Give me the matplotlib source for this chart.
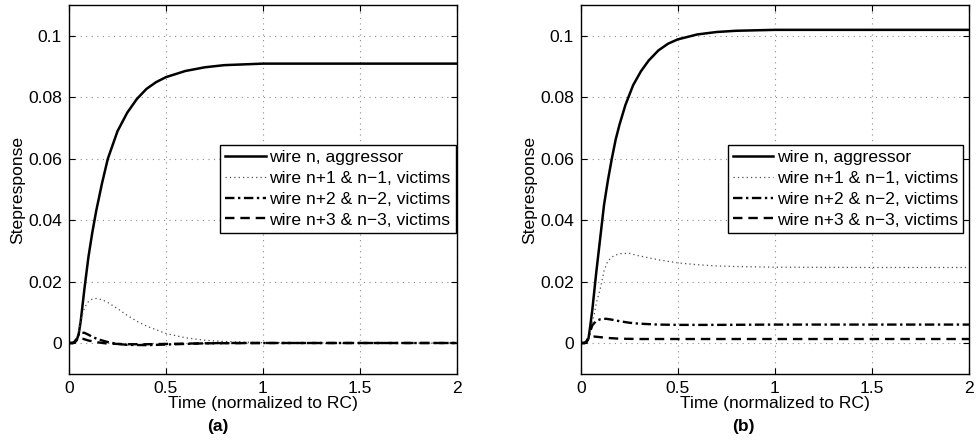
import matplotlib
matplotlib.use('Agg')
import matplotlib.pyplot as plt

plt.rcParams['font.family'] = ['Liberation Sans', 'DejaVu Sans']
plt.rcParams['font.size'] = 12.6

# panel (a)
t_agg_a = [0, 0.02, 0.03, 0.04, 0.05, 0.06, 0.08, 0.10, 0.12, 0.14, 0.17, 0.20, 0.25, 0.30,
           0.35, 0.40, 0.45, 0.50, 0.60, 0.70, 0.80, 1.0, 1.2, 1.5, 2.0]
v_agg_a = [0, 0, 0.0002, 0.001, 0.003, 0.007, 0.018, 0.028, 0.036, 0.043, 0.052, 0.060, 0.069, 0.075,
           0.0795, 0.0828, 0.0850, 0.0866, 0.0886, 0.0898, 0.0905, 0.0910, 0.0910, 0.0910, 0.0910]
t_v1_a = [0, 0.02, 0.03, 0.04, 0.05, 0.06, 0.08, 0.10, 0.12, 0.14, 0.17, 0.20, 0.25, 0.30,
          0.35, 0.40, 0.50, 0.60, 0.70, 0.80, 1.0, 1.5, 2.0]
v_v1_a = [0, 0, 0.0003, 0.0015, 0.004, 0.0075, 0.0115, 0.0135, 0.0143, 0.0145, 0.0141, 0.0132, 0.0112, 0.0090,
          0.0071, 0.0055, 0.0031, 0.0017, 0.0009, 0.0005, 0.0001, 0, 0]
t_v2_a = [0, 0.02, 0.03, 0.04, 0.05, 0.06, 0.08, 0.10, 0.12, 0.15, 0.20, 0.25, 0.30, 0.40,
          0.50, 0.60, 0.70, 0.80, 1.0, 1.5, 2.0]
v_v2_a = [0, 0, 0.0004, 0.0015, 0.0028, 0.0034, 0.0033, 0.0027, 0.0020, 0.0012, 0.0003, -0.0003, -0.0006, -0.0007,
          -0.0005, -0.0003, -0.0001, 0, 0, 0, 0]
t_v3_a = [0, 0.02, 0.03, 0.04, 0.05, 0.07, 0.10, 0.15, 0.20, 0.30, 0.40, 0.50, 0.70, 1.0, 2.0]
v_v3_a = [0, 0, 0.0006, 0.0013, 0.0016, 0.0014, 0.0008, 0.0002, -0.0002, -0.0004, -0.0004, -0.0003, -0.0001, 0, 0]

# panel (b)
t_agg_b = [0, 0.02, 0.03, 0.04, 0.05, 0.06, 0.08, 0.10, 0.12, 0.14, 0.16, 0.18, 0.20, 0.23,
           0.27, 0.31, 0.35, 0.40, 0.45, 0.50, 0.60, 0.70, 0.80, 1.0, 1.2, 1.5, 2.0]
v_agg_b = [0, 0, 0.0003, 0.0015, 0.006, 0.011, 0.023, 0.034, 0.045, 0.053, 0.0600, 0.0663, 0.0712, 0.0775,
           0.0840, 0.0885, 0.0920, 0.0953, 0.0975, 0.0989, 0.1005, 0.1013, 0.1017, 0.1020, 0.1020, 0.1020, 0.1020]
t_v1_b = [0, 0.02, 0.03, 0.04, 0.05, 0.06, 0.07, 0.08, 0.10, 0.12, 0.14, 0.17, 0.20, 0.25,
          0.30, 0.40, 0.50, 0.60, 0.70, 0.80, 1.0, 1.5, 2.0]
v_v1_b = [0, 0, 0.0003, 0.0015, 0.004, 0.007, 0.0095, 0.013, 0.0175, 0.0235, 0.0268, 0.0284, 0.0291, 0.0292,
          0.0284, 0.0271, 0.0261, 0.0255, 0.0251, 0.0249, 0.0247, 0.0246, 0.0246]
t_v2_b = [0, 0.02, 0.03, 0.04, 0.05, 0.06, 0.08, 0.10, 0.13, 0.16, 0.20, 0.25, 0.30, 0.40,
          0.50, 0.70, 1.0, 1.5, 2.0]
v_v2_b = [0, 0, 0.0004, 0.002, 0.004, 0.0058, 0.0072, 0.0077, 0.0079, 0.0076, 0.0071, 0.0066, 0.0063, 0.0060,
          0.0059, 0.0059, 0.0060, 0.0060, 0.0060]
t_v3_b = [0, 0.02, 0.03, 0.04, 0.05, 0.07, 0.10, 0.15, 0.20, 0.30, 0.50, 1.0, 2.0]
v_v3_b = [0, 0, 0.0006, 0.0015, 0.0019, 0.0021, 0.0019, 0.0016, 0.0014, 0.0013, 0.0013, 0.0013, 0.0013]

labels = ['wire n, aggressor', 'wire n+1 & n\u22121, victims',
          'wire n+2 & n\u22122, victims', 'wire n+3 & n\u22123, victims']
xticks = [0, 0.5, 1, 1.5, 2]
xticklabels = ['0', '0.5', '1', '1.5', '2']
yticks = [0, 0.02, 0.04, 0.06, 0.08, 0.1]
yticklabels = ['0', '0.02', '0.04', '0.06', '0.08', '0.1']

panels = [
    ((t_agg_a, v_agg_a), (t_v1_a, v_v1_a), (t_v2_a, v_v2_a), (t_v3_a, v_v3_a), '(a)'),
    ((t_agg_b, v_agg_b), (t_v1_b, v_v1_b), (t_v2_b, v_v2_b), (t_v3_b, v_v3_b), '(b)'),
]

fig = plt.figure(figsize=(9.78, 4.41), dpi=100)
ax_pos = [[0.0706, 0.1526, 0.3964, 0.8354], [0.5938, 0.1526, 0.397, 0.8354]]
legend_right = [0.997, 0.985]
caption_x = [0.223, 0.760]

for i, (agg, v1, v2, v3, cap) in enumerate(panels):
    ax = fig.add_axes(ax_pos[i])
    ax.plot(agg[0], agg[1], color='k', lw=1.8, label=labels[0])
    ax.plot(v1[0], v1[1], color='0.3', lw=0.9, dashes=(1, 2.5), label=labels[1])
    ax.plot(v2[0], v2[1], color='k', lw=1.7, dashes=(4, 1.5, 1, 1.5), label=labels[2])
    ax.plot(v3[0], v3[1], color='k', lw=1.7, dashes=(4, 2.5), label=labels[3])

    ax.set_xlim(0, 2)
    ax.set_ylim(-0.01, 0.11)
    ax.set_xticks(xticks)
    ax.set_xticklabels(xticklabels)
    ax.set_yticks(yticks)
    ax.set_yticklabels(yticklabels)
    ax.tick_params(direction='in', top=True, right=True, length=4, width=0.8, pad=5)
    ax.grid(True, color='0.55', linestyle=(0, (1, 4)), lw=0.8)
    for s in ax.spines.values():
        s.set_linewidth(1.0)
    ax.set_xlabel('Time (normalized to RC)', labelpad=0)
    ax.set_ylabel('Stepresponse', labelpad=2)

    leg = ax.legend(loc='upper right', bbox_to_anchor=(legend_right[i], 0.622),
                    fancybox=False, framealpha=1, edgecolor='k', handlelength=2.3,
                    handletextpad=0.2, labelspacing=0.32, borderpad=0.3, borderaxespad=0)
    leg.get_frame().set_linewidth(1.0)

    fig.text(caption_x[i], 0.032, cap, ha='center', va='center', fontweight='bold')

fig.savefig('out.png', dpi=100)
